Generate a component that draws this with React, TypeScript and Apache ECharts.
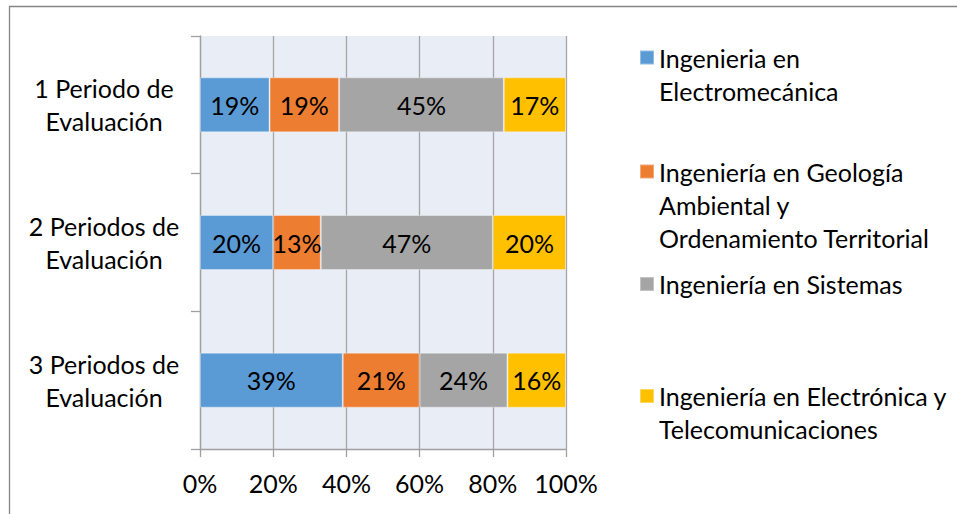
import React, { useEffect, useRef } from "react";
import * as echarts from "echarts";

const categories = ["1 Periodo de\nEvaluación", "2 Periodos de\nEvaluación", "3 Periodos de\nEvaluación"];
const seriesNames = [
  "Ingenieria en Electromecánica",
  "Ingeniería en Geología Ambiental y Ordenamiento Territorial",
  "Ingeniería en Sistemas",
  "Ingeniería en Electrónica y Telecomunicaciones",
];
const legendLabels = [
  "Ingenieria en\nElectromecánica",
  "Ingeniería en Geología\nAmbiental y\nOrdenamiento Territorial",
  "Ingeniería en Sistemas",
  "Ingeniería en Electrónica y\nTelecomunicaciones",
];
const electromecanica = [19, 20, 39];
const geologia = [19, 13, 21];
const sistemas = [45, 47, 24];
const electronica = [17, 20, 16];
const xTicks = [0, 20, 40, 60, 80, 100];

const colors = ["#5B9BD5", "#ED7D31", "#A5A5A5", "#FFC000"];
const FONT = "Lato";
const FS = 25;
const LH = 33;

export default function App() {
  const ref = useRef<HTMLDivElement>(null);
  useEffect(() => {
    const chart = echarts.init(ref.current!, null, { renderer: "svg" });
    const values = [electromecanica, geologia, sistemas, electronica];
    const legendCenters = [57.5, 171.5, 284, 396];
    const legends = seriesNames.map((name, i) => {
      const n = legendLabels[i].split("\n").length;
      // prepend blank lines so that the first text line is centred on the marker
      const txt = Array(n - 1).fill(" ").concat([legendLabels[i]]).join("\n");
      return {
        data: [name],
        left: 639,
        top: legendCenters[i] - ((2 * n - 1) * LH) / 2,
        padding: 0,
        icon: "rect",
        itemWidth: 14,
        itemHeight: 14,
        selectedMode: false,
        formatter: () => txt,
        textStyle: {
          fontFamily: FONT,
          fontSize: FS,
          lineHeight: LH,
          color: "#000",
        },
      };
    });
    chart.setOption({
      animation: false,
      backgroundColor: "#fff",
      textStyle: { fontFamily: FONT },
      graphic: [
        {
          type: "rect",
          shape: { x: 9.5, y: 6.5, width: 1200, height: 800 },
          style: { fill: "none", stroke: "#868686", lineWidth: 1.3 },
          silent: true,
        },
      ],
      legend: legends,
      grid: {
        left: 200,
        top: 36,
        right: 391,
        bottom: 65,
        show: true,
        backgroundColor: "#E9EDF6",
        borderWidth: 0,
      },
      xAxis: {
        type: "value",
        min: 0,
        max: 100,
        interval: 20,
        axisLine: { show: true, lineStyle: { color: "#A0A0A0", width: 1.3 } },
        axisTick: { show: true, length: 8, lineStyle: { color: "#A0A0A0", width: 1.3 } },
        splitLine: { show: true, lineStyle: { color: "#A6A6A6", width: 1.3 } },
        axisLabel: {
          formatter: (v: number) => (xTicks.includes(v) ? v + "%" : ""),
          fontFamily: FONT,
          fontSize: FS,
          color: "#000",
          margin: 21,
        },
      },
      yAxis: {
        type: "category",
        inverse: true,
        data: categories,
        axisLine: { show: true, lineStyle: { color: "#A0A0A0", width: 1.3 } },
        axisTick: { show: true, length: 9, lineStyle: { color: "#A0A0A0", width: 1.3 } },
        splitLine: { show: false },
        axisLabel: {
          fontFamily: FONT,
          fontSize: FS,
          lineHeight: LH,
          color: "#000",
          align: "center",
          margin: 96,
        },
      },
      series: seriesNames.map((name, i) => ({
        name,
        type: "bar",
        stack: "total",
        barWidth: 55,
        data: values[i],
        itemStyle: { color: colors[i], borderColor: "rgba(255,255,255,0.35)", borderWidth: 1 },
        label: {
          show: true,
          position: "inside",
          formatter: "{c}%",
          fontFamily: FONT,
          fontSize: FS,
          color: "#000",
        },
      })),
    });
    return () => chart.dispose();
  }, []);
  return <div ref={ref} style={{ position: "absolute", left: 0, top: 0, width: 957, height: 514 }} />;
}
